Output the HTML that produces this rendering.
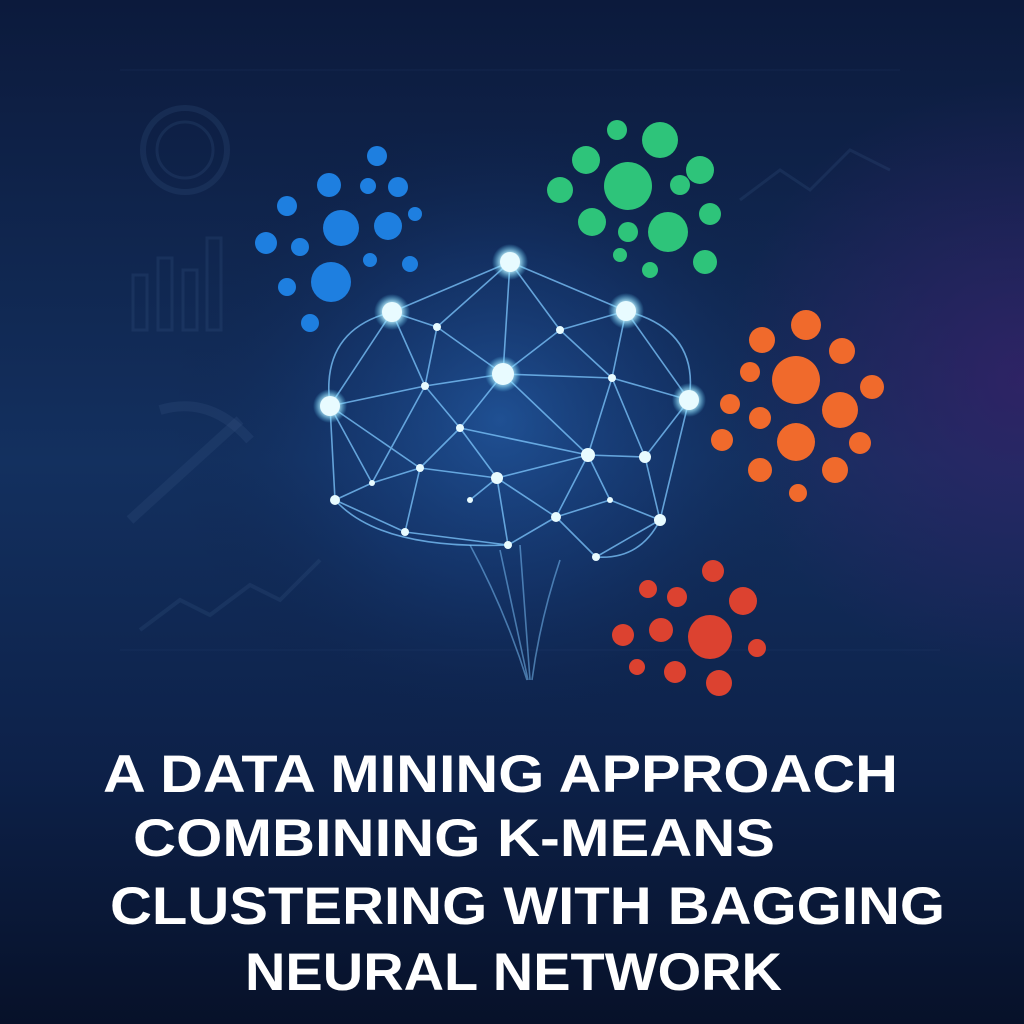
<!DOCTYPE html>
<html><head><meta charset="utf-8"><style>
html,body{margin:0;padding:0;background:#0a1633;}
svg{display:block}
</style></head><body>
<svg width="1024" height="1024" viewBox="0 0 1024 1024" xmlns="http://www.w3.org/2000/svg">
<defs>
<linearGradient id="bg" x1="0" y1="0" x2="0" y2="1">
<stop offset="0" stop-color="#0c1a3c"/><stop offset="0.45" stop-color="#13305f"/><stop offset="0.75" stop-color="#0d2149"/><stop offset="1" stop-color="#071129"/>
</linearGradient>
<radialGradient id="glow" cx="500" cy="420" r="330" gradientUnits="userSpaceOnUse">
<stop offset="0" stop-color="#2a6cc0" stop-opacity="0.55"/><stop offset="0.5" stop-color="#1c4c98" stop-opacity="0.25"/><stop offset="1" stop-color="#0c1a3c" stop-opacity="0"/>
</radialGradient>
<radialGradient id="purp" cx="1024" cy="380" r="300" gradientUnits="userSpaceOnUse">
<stop offset="0" stop-color="#3a1f6a" stop-opacity="0.7"/><stop offset="1" stop-color="#3a1f6a" stop-opacity="0"/>
</radialGradient>
<radialGradient id="ng" cx="0.5" cy="0.5" r="0.5">
<stop offset="0" stop-color="#ffffff"/><stop offset="0.45" stop-color="#c8f4ff"/><stop offset="1" stop-color="#5fd4ff" stop-opacity="0"/>
</radialGradient>
</defs>
<rect width="1024" height="1024" fill="url(#bg)"/>
<rect width="1024" height="1024" fill="url(#purp)"/>
<rect width="1024" height="1024" fill="url(#glow)"/>

<g stroke="#3a5a8a" stroke-opacity="0.22" fill="none" stroke-width="3">
<circle cx="185" cy="150" r="42" stroke-width="6"/><circle cx="185" cy="150" r="28"/>
<rect x="133" y="275" width="14" height="55"/><rect x="158" y="258" width="14" height="72"/><rect x="183" y="270" width="14" height="60"/><rect x="207" y="238" width="14" height="92"/>
<path d="M130 520 L240 420" stroke-width="10"/><path d="M160 410 Q210 395 250 440" stroke-width="10"/>
<path d="M140 630 L180 600 L210 615 L250 585 L280 600 L320 560" stroke-width="4"/>
<path d="M740 200 L780 170 L810 190 L850 150 L890 170"/>
<path d="M120 70 L900 70 M120 650 L940 650" stroke-opacity="0.15" stroke-width="1"/>
</g>

<g stroke="#7fc8ff" stroke-opacity="0.75" stroke-width="1.6" fill="none">
<path d="M510 262 L392 312 M510 262 L626 311 M510 262 L437 327 M510 262 L560 330 M510 262 L503 374 M392 312 L437 327 M437 327 L503 374 M560 330 L503 374 M626 311 L560 330 M626 311 L612 378 M626 311 L689 400 M392 312 L330 406 M392 312 L425 386 M437 327 L425 386 M560 330 L612 378 M503 374 L425 386 M503 374 L612 378 M503 374 L460 428 M503 374 L588 455 M330 406 L425 386 M330 406 L372 483 M330 406 L335 500 M425 386 L460 428 M425 386 L372 483 M612 378 L689 400 M612 378 L588 455 M612 378 L645 457 M689 400 L645 457 M689 400 L660 520 M460 428 L420 468 M460 428 L497 478 M460 428 L588 455 M588 455 L497 478 M588 455 L645 457 M588 455 L556 517 M588 455 L610 500 M645 457 L660 520 M610 500 L660 520 M420 468 L372 483 M420 468 L497 478 M420 468 L405 532 M372 483 L335 500 M335 500 L405 532 M497 478 L556 517 M497 478 L508 545 M497 478 L470 500 M405 532 L508 545 M508 545 L556 517 M556 517 L596 557 M556 517 L610 500 M596 557 L660 520 M330 406 L420 468"/>
<path d="M330 406 Q320 330 392 312 M689 400 Q700 330 626 311 M335 500 Q380 550 508 545 M660 520 Q640 560 596 557"/>
<path d="M520 545 Q525 610 530 680 M500 550 Q515 620 528 680 M560 560 Q540 620 532 680 M470 545 Q505 610 527 680" stroke-opacity="0.5"/>
</g>
<g fill="url(#ng)">
<circle cx="510" cy="262" r="18"/><circle cx="392" cy="312" r="18"/><circle cx="626" cy="311" r="18"/><circle cx="503" cy="374" r="18"/><circle cx="330" cy="406" r="17"/><circle cx="689" cy="400" r="17"/>
</g>
<g fill="#e8fbff">
<circle cx="510" cy="262" r="10"/><circle cx="392" cy="312" r="10"/><circle cx="626" cy="311" r="10"/><circle cx="503" cy="374" r="11"/><circle cx="330" cy="406" r="10"/><circle cx="689" cy="400" r="10"/>
<circle cx="588" cy="455" r="7"/><circle cx="460" cy="428" r="4"/><circle cx="420" cy="468" r="4"/><circle cx="497" cy="478" r="6"/><circle cx="556" cy="517" r="5"/><circle cx="660" cy="520" r="6"/><circle cx="335" cy="500" r="5"/><circle cx="405" cy="532" r="4"/><circle cx="508" cy="545" r="4"/><circle cx="596" cy="557" r="4"/><circle cx="645" cy="457" r="6"/><circle cx="612" cy="378" r="4"/><circle cx="425" cy="386" r="4"/><circle cx="437" cy="327" r="4"/><circle cx="560" cy="330" r="4"/><circle cx="372" cy="483" r="3"/><circle cx="610" cy="500" r="3"/><circle cx="470" cy="500" r="3"/>
</g>

<g fill="#1e7fe0">
<circle cx="341" cy="228" r="18"/><circle cx="331" cy="282" r="20"/><circle cx="377" cy="156" r="10"/><circle cx="329" cy="185" r="12"/><circle cx="287" cy="206" r="10"/><circle cx="266" cy="243" r="11"/><circle cx="300" cy="247" r="9"/><circle cx="368" cy="186" r="8"/><circle cx="398" cy="187" r="10"/><circle cx="388" cy="226" r="14"/><circle cx="415" cy="214" r="7"/><circle cx="410" cy="264" r="8"/><circle cx="370" cy="260" r="7"/><circle cx="287" cy="287" r="9"/><circle cx="310" cy="323" r="9"/>
</g>
<g fill="#2ec47a">
<circle cx="628" cy="186" r="24"/><circle cx="586" cy="160" r="14"/><circle cx="617" cy="130" r="10"/><circle cx="660" cy="140" r="18"/><circle cx="700" cy="170" r="14"/><circle cx="560" cy="190" r="13"/><circle cx="680" cy="185" r="10"/><circle cx="710" cy="214" r="11"/><circle cx="592" cy="222" r="14"/><circle cx="628" cy="232" r="10"/><circle cx="668" cy="232" r="20"/><circle cx="620" cy="255" r="7"/><circle cx="650" cy="270" r="8"/><circle cx="705" cy="262" r="12"/>
</g>
<g fill="#f06a2c">
<circle cx="796" cy="380" r="24"/><circle cx="762" cy="340" r="13"/><circle cx="806" cy="325" r="15"/><circle cx="842" cy="351" r="13"/><circle cx="750" cy="372" r="10"/><circle cx="730" cy="404" r="10"/><circle cx="760" cy="418" r="11"/><circle cx="840" cy="410" r="18"/><circle cx="872" cy="387" r="12"/><circle cx="796" cy="442" r="19"/><circle cx="860" cy="443" r="11"/><circle cx="760" cy="470" r="12"/><circle cx="835" cy="470" r="13"/><circle cx="798" cy="493" r="9"/><circle cx="722" cy="440" r="11"/>
</g>
<g fill="#dc4230">
<circle cx="710" cy="637" r="22"/><circle cx="713" cy="571" r="11"/><circle cx="677" cy="597" r="10"/><circle cx="743" cy="601" r="14"/><circle cx="648" cy="589" r="9"/><circle cx="623" cy="635" r="11"/><circle cx="661" cy="630" r="12"/><circle cx="757" cy="648" r="9"/><circle cx="675" cy="672" r="11"/><circle cx="719" cy="683" r="13"/><circle cx="637" cy="667" r="8"/>
</g>

<g font-family="Liberation Sans, sans-serif" font-weight="bold" font-size="53" fill="#ffffff">
<text x="103" y="792" textLength="795" lengthAdjust="spacingAndGlyphs">A DATA MINING APPROACH</text>
<text x="133" y="856" textLength="642" lengthAdjust="spacingAndGlyphs">COMBINING K-MEANS</text>
<text x="110" y="924" textLength="835" lengthAdjust="spacingAndGlyphs">CLUSTERING WITH BAGGING</text>
<text x="245" y="990" textLength="537" lengthAdjust="spacingAndGlyphs">NEURAL NETWORK</text>
</g>
</svg>
</body></html>
